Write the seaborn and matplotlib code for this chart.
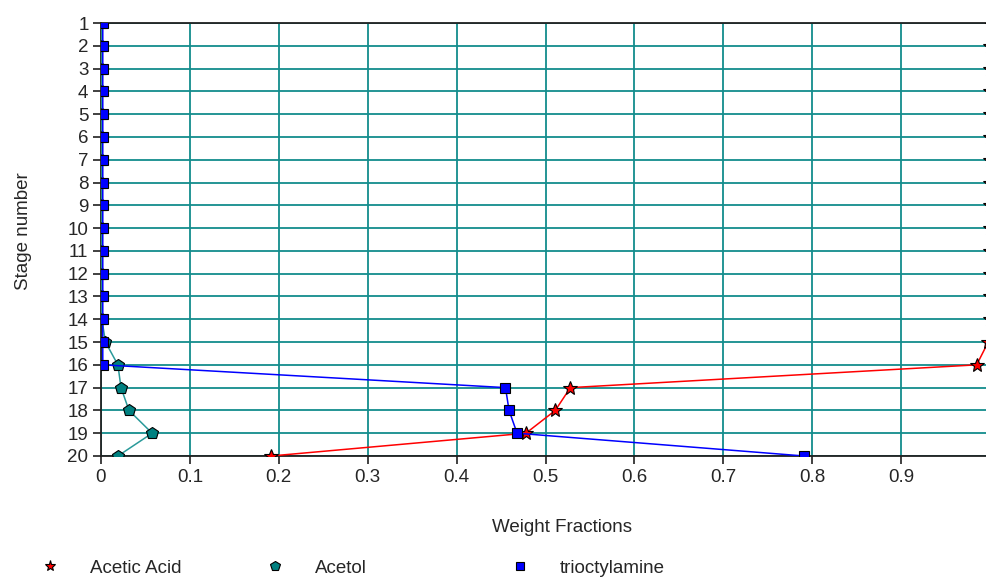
import numpy as np
import pandas as pd
import matplotlib
matplotlib.use("Agg")
import matplotlib.pyplot as plt
from matplotlib.lines import Line2D
from matplotlib.ticker import FuncFormatter
import seaborn as sns

# datos
etapas = list(range(1, 21))
acido_acetico = [1.0] * 14 + [0.998, 0.985, 0.528, 0.511, 0.478, 0.191]
acetol = [0.001] * 14 + [0.005, 0.019, 0.0225, 0.0315, 0.0575, 0.019]
trioctilamina = [0.002] * 16 + [0.455, 0.459, 0.468, 0.791]

series = ["Acetic Acid", "Acetol", "trioctylamine"]
valores = [acido_acetico, acetol, trioctilamina]
colores_linea = ["#ff0000", "#2a9a9a", "#0000ff"]
colores_marca = ["#ff0000", "#008080", "#0000ff"]
marcas = ["*", "p", "s"]
tamanos = [10, 9, 7]

sns.set_style("white")
plt.rcParams["font.family"] = ["Liberation Sans", "DejaVu Sans"]
fs = 13.5

fig = plt.figure(figsize=(9.87, 5.79), dpi=100)
# el eje llega un poco mas alla del borde derecho
ax = fig.add_axes([101 / 987, 1 - 456 / 579, 889 / 987, (456 - 23) / 579])

for nombre, vals, cl, cm, mk, sz in zip(series, valores, colores_linea, colores_marca, marcas, tamanos):
    df = pd.DataFrame({"x": vals, "etapa": etapas})
    sns.lineplot(data=df, x="x", y="etapa", sort=False, estimator=None, ax=ax, color=cl,
                 linewidth=1.1, marker=mk, markersize=sz, markerfacecolor=cm,
                 markeredgecolor="black", markeredgewidth=0.8, zorder=3)

ax.set_xlim(0, 1)
ax.set_ylim(20, 1)
ax.set_xticks(np.arange(0, 1.01, 0.1))
ax.set_yticks(etapas)
ax.xaxis.set_major_formatter(FuncFormatter(lambda v, p: f"{v:g}"))
ax.grid(True, color="#138c8c", linewidth=1.3)
ax.set_axisbelow(True)
for lado in ["left", "bottom", "top"]:
    ax.spines[lado].set_color("#202020")
    ax.spines[lado].set_linewidth(1.3)
ax.spines["right"].set_visible(False)
ax.tick_params(axis="both", direction="out", length=6, width=1.2, color="#202020",
               labelsize=fs, pad=3, left=True, bottom=True)
ax.set_xlabel("Weight Fractions", fontsize=fs)
ax.set_ylabel("Stage number", fontsize=fs)
ax.xaxis.set_label_coords((562 - 101) / 889, -0.145)
ax.yaxis.set_label_coords(-0.078, 0.52)

# leyenda en la parte de abajo
posiciones = [50, 275, 520]
for nombre, cm, mk, sz, px in zip(series, colores_marca, marcas, tamanos, posiciones):
    h = Line2D([], [], linestyle="none", marker=mk, markersize=sz * 0.8, markerfacecolor=cm,
               markeredgecolor="black", markeredgewidth=0.8)
    fig.legend([h], [nombre], loc="center left", bbox_to_anchor=((px - 9) / 987, 1 - 568 / 579),
               frameon=False, fontsize=fs, handlelength=1, handletextpad=1.6, borderpad=0,
               borderaxespad=0)

fig.savefig("out.png", dpi=100)
